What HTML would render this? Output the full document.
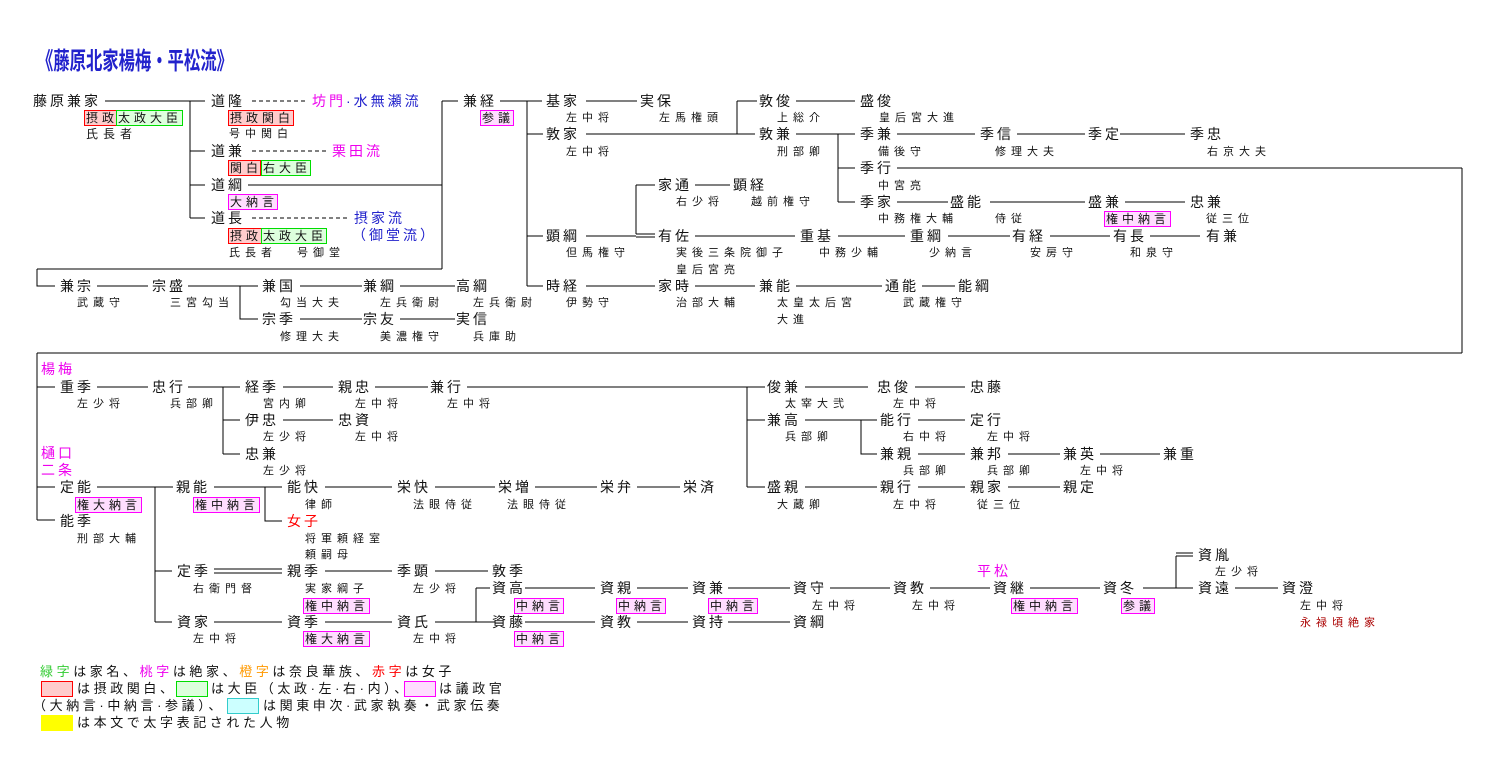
<!DOCTYPE html>
<html><head><meta charset="utf-8">
<style>
body{margin:0;background:#fff;}
#w{position:relative;width:1500px;height:770px;overflow:hidden;background:#fff;font-family:"Liberation Sans","Noto Sans CJK JP",sans-serif;color:#111;}
.n{position:absolute;font-size:14px;letter-spacing:3px;line-height:16px;white-space:nowrap;}
.s{position:absolute;font-size:11px;letter-spacing:5px;line-height:14px;white-space:nowrap;}
.b{position:absolute;box-sizing:border-box;height:16px;font-size:12px;letter-spacing:4px;line-height:14px;padding-left:1px;white-space:nowrap;overflow:hidden;}
.r{border:1px solid #f00;background:#fcc;}
.g{border:1px solid #0d0;background:#dfd;}
.m{border:1px solid #f0f;background:#fdf;}
.l{position:absolute;font-size:13px;letter-spacing:3.6px;line-height:16px;white-space:nowrap;}
.sw{position:absolute;width:32px;height:16px;box-sizing:border-box;}
svg{position:absolute;left:0;top:0;}
</style></head><body><div id="w">
<div style="position:absolute;left:37px;top:47px;font-size:24px;font-weight:bold;color:#22c;transform:scaleX(0.68);transform-origin:0 0;white-space:nowrap;line-height:30px;">《藤原北家楊梅・平松流》</div>

<svg width="1500" height="770" stroke="#000" stroke-width="1" fill="none" shape-rendering="crispEdges">
<path d="M105 101H205M190 101V218M190 151H205M190 185H205M190 218H205"/>
<path d="M252 101H305M252 151H328M252 218H350" stroke-dasharray="4,3"/>
<path d="M248 185H442M442 101V269M442 101H458M37 269H442M37 269V286H55"/>
<path d="M500 101H542M527 101V286M527 134H543M527 236H543M527 286H543"/>
<path d="M586 101H637M586 134H755M737 101V134M737 101H757"/>
<path d="M796 101H855M796 134H855M838 134V202M838 168H855M838 202H855"/>
<path d="M897 134H975M1017 134H1085M1120 134H1185"/>
<path d="M897 168H1462M1462 168V353M37 353H1462M37 353V520"/>
<path d="M897 202H948M990 202H1085M1125 202H1185"/>
<path d="M586 236H636M636 185V234M636 185H655M636 234H655M636 237H655"/>
<path d="M695 185H730M695 236H795M838 236H905M948 236H1010M1050 236H1110M1150 236H1200"/>
<path d="M586 286H655M695 286H755M796 286H882M922 286H955"/>
<path d="M97 286H148M188 286H258M240 286V319H258M300 286H362M400 286H455M300 319H362M400 319H455"/>
<path d="M37 387H55M97 387H148M188 387H240M223 387V454M223 420H240M223 454H240"/>
<path d="M283 387H333M375 387H428M467 387H765M747 387V487M747 420H765M747 487H765M283 420H333"/>
<path d="M805 387H868M915 387H965M805 420H877M861 420V454H877M918 420H965M918 454H965M1008 454H1060M1100 454H1160"/>
<path d="M805 487H877M918 487H965M1008 487H1060"/>
<path d="M37 487H55M37 520H55M97 487H173M155 487V622M155 571H172M155 622H172M214 487H282M265 487V521H282"/>
<path d="M325 487H392M435 487H495M535 487H597M637 487H680"/>
<path d="M214 569H282M214 573H282M325 571H392M435 571H488"/>
<path d="M214 622H282M325 622H392M435 622H495M476 588V622M476 588H490"/>
<path d="M525 588H595M637 588H688M728 588H790M830 588H890M930 588H990M1030 588H1100M1143 588H1193M1176 556V588M1176 553H1193M1176 556H1193M1235 588H1278"/>
<path d="M525 622H595M637 622H688M728 622H790"/>
</svg>

<div class="n" style="left:33px;top:93px">藤原兼家</div>
<div class="b r" style="left:84px;top:110px;width:33px">摂政</div>
<div class="b g" style="left:116px;top:110px;width:67px">太政大臣</div>
<div class="s" style="left:86px;top:127px;font-size:12px">氏長者</div>
<div class="n" style="left:211px;top:93px">道隆</div>
<div class="n" style="left:312px;top:93px"><span style="color:#e0e">坊門</span><span style="color:#22c">·水無瀬流</span></div>
<div class="b r" style="left:228px;top:110px;width:66px">摂政関白</div>
<div class="s" style="left:229px;top:127px">号中関白</div>
<div class="n" style="left:211px;top:143px">道兼</div>
<div class="n" style="left:332px;top:143px;color:#e0e">栗田流</div>
<div class="b r" style="left:228px;top:160px;width:33px">関白</div>
<div class="b g" style="left:261px;top:160px;width:50px">右大臣</div>
<div class="n" style="left:211px;top:177px">道綱</div>
<div class="b m" style="left:228px;top:194px;width:50px">大納言</div>
<div class="n" style="left:211px;top:210px">道長</div>
<div class="n" style="left:354px;top:210px;color:#22c">摂家流</div>
<div class="n" style="left:352px;top:227px;color:#22c">（御堂流）</div>
<div class="b r" style="left:228px;top:228px;width:34px">摂政</div>
<div class="b g" style="left:261px;top:228px;width:66px">太政大臣</div>
<div class="s" style="left:229px;top:246px">氏長者</div>
<div class="s" style="left:297px;top:246px">号御堂</div>

<div class="n" style="left:463px;top:93px">兼経</div>
<div class="b m" style="left:480px;top:110px;width:34px">参議</div>
<div class="n" style="left:546px;top:93px">基家</div>
<div class="n" style="left:640px;top:93px">実保</div>
<div class="s" style="left:566px;top:111px">左中将</div>
<div class="s" style="left:659px;top:111px">左馬権頭</div>
<div class="n" style="left:546px;top:126px">敦家</div>
<div class="s" style="left:566px;top:145px">左中将</div>
<div class="n" style="left:759px;top:93px">敦俊</div>
<div class="n" style="left:860px;top:93px">盛俊</div>
<div class="s" style="left:777px;top:111px">上総介</div>
<div class="s" style="left:879px;top:111px">皇后宮大進</div>
<div class="n" style="left:759px;top:126px">敦兼</div>
<div class="s" style="left:777px;top:145px">刑部卿</div>
<div class="n" style="left:860px;top:126px">季兼</div>
<div class="n" style="left:980px;top:126px">季信</div>
<div class="n" style="left:1088px;top:126px">季定</div>
<div class="n" style="left:1190px;top:126px">季忠</div>
<div class="s" style="left:878px;top:145px">備後守</div>
<div class="s" style="left:995px;top:145px">修理大夫</div>
<div class="s" style="left:1207px;top:145px">右京大夫</div>
<div class="n" style="left:860px;top:160px">季行</div>
<div class="s" style="left:878px;top:179px">中宮亮</div>
<div class="n" style="left:860px;top:194px">季家</div>
<div class="n" style="left:950px;top:194px">盛能</div>
<div class="n" style="left:1088px;top:194px">盛兼</div>
<div class="n" style="left:1190px;top:194px">忠兼</div>
<div class="s" style="left:878px;top:212px">中務権大輔</div>
<div class="s" style="left:995px;top:212px">侍従</div>
<div class="b m" style="left:1104px;top:211px;width:67px">権中納言</div>
<div class="s" style="left:1206px;top:212px">従三位</div>
<div class="n" style="left:546px;top:228px">顕綱</div>
<div class="s" style="left:566px;top:246px">但馬権守</div>
<div class="n" style="left:658px;top:177px">家通</div>
<div class="n" style="left:733px;top:177px">顕経</div>
<div class="s" style="left:676px;top:195px">右少将</div>
<div class="s" style="left:751px;top:195px">越前権守</div>
<div class="n" style="left:658px;top:228px">有佐</div>
<div class="n" style="left:800px;top:228px">重基</div>
<div class="n" style="left:910px;top:228px">重綱</div>
<div class="n" style="left:1012px;top:228px">有経</div>
<div class="n" style="left:1113px;top:228px">有長</div>
<div class="n" style="left:1206px;top:228px">有兼</div>
<div class="s" style="left:676px;top:246px">実後三条院御子</div>
<div class="s" style="left:676px;top:263px">皇后宮亮</div>
<div class="s" style="left:819px;top:246px">中務少輔</div>
<div class="s" style="left:929px;top:246px">少納言</div>
<div class="s" style="left:1030px;top:246px">安房守</div>
<div class="s" style="left:1130px;top:246px">和泉守</div>
<div class="n" style="left:546px;top:278px">時経</div>
<div class="n" style="left:658px;top:278px">家時</div>
<div class="n" style="left:759px;top:278px">兼能</div>
<div class="n" style="left:885px;top:278px">通能</div>
<div class="n" style="left:958px;top:278px">能綱</div>
<div class="s" style="left:566px;top:296px">伊勢守</div>
<div class="s" style="left:676px;top:296px">治部大輔</div>
<div class="s" style="left:777px;top:296px">太皇太后宮</div>
<div class="s" style="left:777px;top:313px">大進</div>
<div class="s" style="left:903px;top:296px">武蔵権守</div>

<div class="n" style="left:60px;top:278px">兼宗</div>
<div class="n" style="left:152px;top:278px">宗盛</div>
<div class="n" style="left:262px;top:278px">兼国</div>
<div class="n" style="left:363px;top:278px">兼綱</div>
<div class="n" style="left:456px;top:278px">高綱</div>
<div class="s" style="left:77px;top:296px">武蔵守</div>
<div class="s" style="left:170px;top:296px">三宮勾当</div>
<div class="s" style="left:280px;top:296px">勾当大夫</div>
<div class="s" style="left:380px;top:296px">左兵衛尉</div>
<div class="s" style="left:473px;top:296px">左兵衛尉</div>
<div class="n" style="left:262px;top:311px">宗季</div>
<div class="n" style="left:363px;top:311px">宗友</div>
<div class="n" style="left:456px;top:311px">実信</div>
<div class="s" style="left:280px;top:330px">修理大夫</div>
<div class="s" style="left:380px;top:330px">美濃権守</div>
<div class="s" style="left:473px;top:330px">兵庫助</div>

<div class="n" style="left:41px;top:361px;color:#e0e">楊梅</div>
<div class="n" style="left:60px;top:379px">重季</div>
<div class="n" style="left:152px;top:379px">忠行</div>
<div class="s" style="left:77px;top:397px">左少将</div>
<div class="s" style="left:170px;top:397px">兵部卿</div>
<div class="n" style="left:245px;top:379px">経季</div>
<div class="n" style="left:338px;top:379px">親忠</div>
<div class="n" style="left:430px;top:379px">兼行</div>
<div class="s" style="left:263px;top:397px">宮内卿</div>
<div class="s" style="left:355px;top:397px">左中将</div>
<div class="s" style="left:447px;top:397px">左中将</div>
<div class="n" style="left:245px;top:412px">伊忠</div>
<div class="n" style="left:338px;top:412px">忠資</div>
<div class="s" style="left:263px;top:430px">左少将</div>
<div class="s" style="left:355px;top:430px">左中将</div>
<div class="n" style="left:245px;top:446px">忠兼</div>
<div class="s" style="left:263px;top:464px">左少将</div>
<div class="n" style="left:41px;top:445px;color:#e0e">樋口</div>
<div class="n" style="left:41px;top:462px;color:#e0e">二条</div>
<div class="n" style="left:60px;top:479px">定能</div>
<div class="b m" style="left:75px;top:497px;width:67px">権大納言</div>
<div class="n" style="left:176px;top:479px">親能</div>
<div class="b m" style="left:193px;top:497px;width:67px">権中納言</div>
<div class="n" style="left:60px;top:513px">能季</div>
<div class="s" style="left:77px;top:532px">刑部大輔</div>
<div class="n" style="left:287px;top:479px">能快</div>
<div class="n" style="left:397px;top:479px">栄快</div>
<div class="n" style="left:498px;top:479px">栄増</div>
<div class="n" style="left:600px;top:479px">栄弁</div>
<div class="n" style="left:683px;top:479px">栄済</div>
<div class="s" style="left:305px;top:498px">律師</div>
<div class="s" style="left:413px;top:498px">法眼侍従</div>
<div class="s" style="left:507px;top:498px">法眼侍従</div>
<div class="n" style="left:287px;top:513px;color:#f00">女子</div>
<div class="s" style="left:305px;top:532px">将軍頼経室</div>
<div class="s" style="left:305px;top:548px">頼嗣母</div>

<div class="n" style="left:767px;top:379px">俊兼</div>
<div class="n" style="left:877px;top:379px">忠俊</div>
<div class="n" style="left:970px;top:379px">忠藤</div>
<div class="s" style="left:785px;top:397px">太宰大弐</div>
<div class="s" style="left:893px;top:397px">左中将</div>
<div class="n" style="left:767px;top:412px">兼高</div>
<div class="n" style="left:880px;top:412px">能行</div>
<div class="n" style="left:970px;top:412px">定行</div>
<div class="s" style="left:785px;top:430px">兵部卿</div>
<div class="s" style="left:903px;top:430px">右中将</div>
<div class="s" style="left:987px;top:430px">左中将</div>
<div class="n" style="left:880px;top:446px">兼親</div>
<div class="n" style="left:970px;top:446px">兼邦</div>
<div class="n" style="left:1063px;top:446px">兼英</div>
<div class="n" style="left:1163px;top:446px">兼重</div>
<div class="s" style="left:903px;top:464px">兵部卿</div>
<div class="s" style="left:987px;top:464px">兵部卿</div>
<div class="s" style="left:1080px;top:464px">左中将</div>
<div class="n" style="left:767px;top:479px">盛親</div>
<div class="n" style="left:880px;top:479px">親行</div>
<div class="n" style="left:970px;top:479px">親家</div>
<div class="n" style="left:1063px;top:479px">親定</div>
<div class="s" style="left:777px;top:498px">大蔵卿</div>
<div class="s" style="left:893px;top:498px">左中将</div>
<div class="s" style="left:977px;top:498px">従三位</div>

<div class="n" style="left:177px;top:563px">定季</div>
<div class="n" style="left:287px;top:563px">親季</div>
<div class="n" style="left:397px;top:563px">季顕</div>
<div class="n" style="left:492px;top:563px">敦季</div>
<div class="s" style="left:193px;top:582px">右衛門督</div>
<div class="s" style="left:305px;top:582px">実家綱子</div>
<div class="s" style="left:413px;top:582px">左少将</div>
<div class="b m" style="left:303px;top:598px;width:67px">権中納言</div>
<div class="n" style="left:177px;top:614px">資家</div>
<div class="n" style="left:287px;top:614px">資季</div>
<div class="n" style="left:397px;top:614px">資氏</div>
<div class="s" style="left:193px;top:632px">左中将</div>
<div class="b m" style="left:303px;top:631px;width:67px">権大納言</div>
<div class="s" style="left:413px;top:632px">左中将</div>

<div class="n" style="left:492px;top:580px">資高</div>
<div class="n" style="left:600px;top:580px">資親</div>
<div class="n" style="left:692px;top:580px">資兼</div>
<div class="n" style="left:793px;top:580px">資守</div>
<div class="n" style="left:893px;top:580px">資教</div>
<div class="n" style="left:993px;top:580px">資継</div>
<div class="n" style="left:1103px;top:580px">資冬</div>
<div class="n" style="left:977px;top:563px;color:#e0e">平松</div>
<div class="b m" style="left:514px;top:598px;width:50px">中納言</div>
<div class="b m" style="left:616px;top:598px;width:50px">中納言</div>
<div class="b m" style="left:708px;top:598px;width:50px">中納言</div>
<div class="s" style="left:812px;top:599px">左中将</div>
<div class="s" style="left:912px;top:599px">左中将</div>
<div class="b m" style="left:1011px;top:598px;width:67px">権中納言</div>
<div class="b m" style="left:1121px;top:598px;width:34px">参議</div>
<div class="n" style="left:1198px;top:547px">資胤</div>
<div class="s" style="left:1215px;top:565px">左少将</div>
<div class="n" style="left:1198px;top:580px">資遠</div>
<div class="n" style="left:1282px;top:580px">資澄</div>
<div class="s" style="left:1300px;top:599px">左中将</div>
<div class="s" style="left:1300px;top:616px;color:#a00">永禄頃絶家</div>
<div class="n" style="left:492px;top:614px">資藤</div>
<div class="n" style="left:600px;top:614px">資教</div>
<div class="n" style="left:692px;top:614px">資持</div>
<div class="n" style="left:793px;top:614px">資綱</div>
<div class="b m" style="left:514px;top:631px;width:50px">中納言</div>

<div class="l" style="left:40px;top:664px"><span style="color:#3c3">緑字</span>は家名、<span style="color:#e0e">桃字</span>は絶家、<span style="color:#f90">橙字</span>は奈良華族、<span style="color:#f00">赤字</span>は女子</div>
<div class="sw" style="left:41px;top:681px;border:1px solid #f00;background:#fcc"></div>
<div class="l" style="left:77px;top:681px">は摂政関白、</div>
<div class="sw" style="left:176px;top:681px;border:1px solid #0d0;background:#dfd"></div>
<div class="l" style="left:211px;top:681px">は大臣（太政·左·右·内）、</div>
<div class="sw" style="left:404px;top:681px;border:1px solid #f0f;background:#fdf"></div>
<div class="l" style="left:439px;top:681px">は議政官</div>
<div class="l" style="left:33px;top:698px">（大納言·中納言·参議）、</div>
<div class="sw" style="left:227px;top:698px;border:1px solid #3cc;background:#cff"></div>
<div class="l" style="left:263px;top:698px">は関東申次·武家執奏・武家伝奏</div>
<div class="sw" style="left:41px;top:715px;background:#ff0"></div>
<div class="l" style="left:77px;top:715px">は本文で太字表記された人物</div>
</div></body></html>
